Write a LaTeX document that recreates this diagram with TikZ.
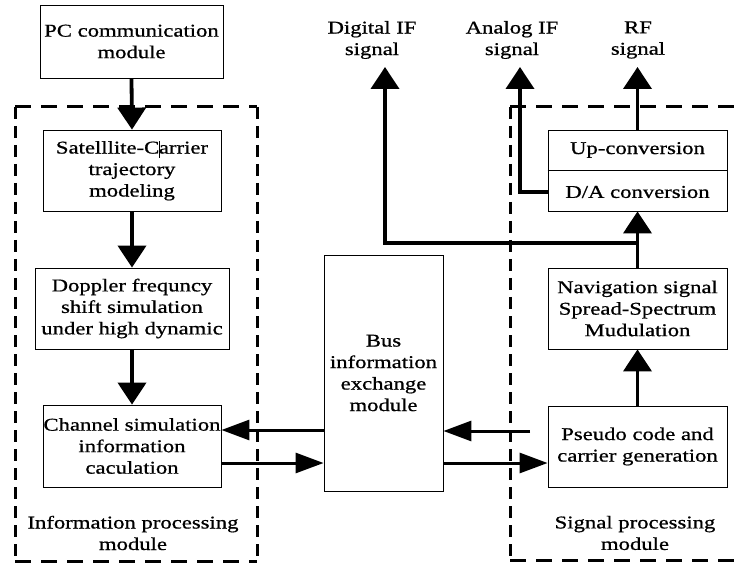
\documentclass[tikz,border=0pt]{standalone}
\usepackage{fontspec}
\setmainfont{Liberation Serif}[FakeStretch=1.26,FakeBold=0.8]
\usetikzlibrary{arrows.meta}
\begin{document}
\begin{tikzpicture}[x=1pt,y=-1pt,
  box/.style={draw, line width=0.8pt, align=center, inner sep=0pt,
    font=\fontsize{18}{21.5}\selectfont},
  lbl/.style={align=center, inner sep=0pt, font=\fontsize{18}{21.5}\selectfont},
  varr/.style={line width=3.8pt, -{Triangle[width=28pt,length=22pt]}},
  harr/.style={line width=3pt, -{Triangle[width=20pt,length=28pt]}},
  hdash/.style={line width=3pt, dash pattern=on 16pt off 10pt},
  vdash/.style={line width=3pt, dash pattern=on 12pt off 7pt},
  plain/.style={line width=3.8pt}]
\useasboundingbox (0,0) rectangle (742,564);
\fill[white] (0,0) rectangle (742,564);

% group frames
\draw[hdash] (15,107) -- (257,107);
\draw[hdash] (15,561) -- (257,561);
\draw[vdash] (15,107) -- (15,561);
\draw[vdash] (257,107) -- (257,561);
\draw[hdash] (510,107) -- (742,107);
\draw[hdash] (510,560) -- (742,560);
\draw[vdash] (510,107) -- (510,560);

% boxes
\node[box, minimum width=183pt, minimum height=73pt] (pc) at (131.5,41.5) {PC communication\\module};
\node[box, minimum width=178pt, minimum height=81pt] (sat) at (132,170.5)
  {Satelllite-C\kern-0.5pt\rule[-4pt]{0.7pt}{17pt}\kern-0.5pt arrier\\trajectory\\modeling};
\node[box, minimum width=194pt, minimum height=81pt] (dop) at (132,308.5) {Doppler frequncy\\shift simulation\\under high dynamic};
\node[box, minimum width=178pt, minimum height=82pt] (chan) at (132,446) {Channel simulation\\information\\caculation};
\node[box, minimum width=119pt, minimum height=236pt] (bus) at (383.5,373) {Bus\\information\\exchange\\module};
\node[box, minimum width=179pt, minimum height=81pt] (pse) at (637.5,446.5) {Pseudo code and\\carrier generation};
\node[box, minimum width=179pt, minimum height=81pt] (nav) at (637.5,308.5) {Navigation signal\\Spread-Spectrum\\Mudulation};
\node[box, minimum width=179pt, minimum height=81pt] (conv) at (637.5,170.5) {};
\draw[line width=0.8pt] (conv.west) -- (conv.east);
\node[lbl] (up) at (637.5,150) {Up-conversion};
\node[lbl] (da) at (637.5,192) {D/A conversion};

% labels
\node[lbl] (dig) at (372,40) {Digital IF\\signal};
\node[lbl] (ana) at (512,40) {Analog IF\\signal};
\node[lbl] (rf) at (638,40) {RF\\signal};
\node[lbl] (ipm) at (133,533) {Information processing\\module};
\node[lbl] (spm) at (635,533) {Signal processing\\module};

% coordinates
\coordinate (digtip) at (385,67);
\coordinate (antip) at (520,67);
\coordinate (rftip) at (637.5,67);
\coordinate (j) at (637.5,243);
\coordinate (pstart) at (530,431);

% connectors
\draw[varr] (pc.south) -- (sat.north);
\draw[varr] (sat.south) -- (dop.north);
\draw[varr] (dop.south) -- (chan.north);
\draw[harr] ([yshift=-57pt]bus.west) -- ([yshift=16pt]chan.east);
\draw[harr] ([yshift=-17pt]chan.east) -- ([yshift=-90pt]bus.west);
\draw[harr] (pstart) -- ([yshift=-58pt]bus.east);
\draw[harr] ([yshift=-90pt]bus.east) -- ([yshift=-16.5pt]pse.west);
\draw[varr] (pse.north) -- (nav.south);
\draw[varr] (nav.north) -- (conv.south);
\draw[varr] (j) -| (digtip);
\draw[varr] (conv.west |- da) -| (antip);
\draw[varr] (conv.north) -- (rftip);
\end{tikzpicture}
\end{document}
